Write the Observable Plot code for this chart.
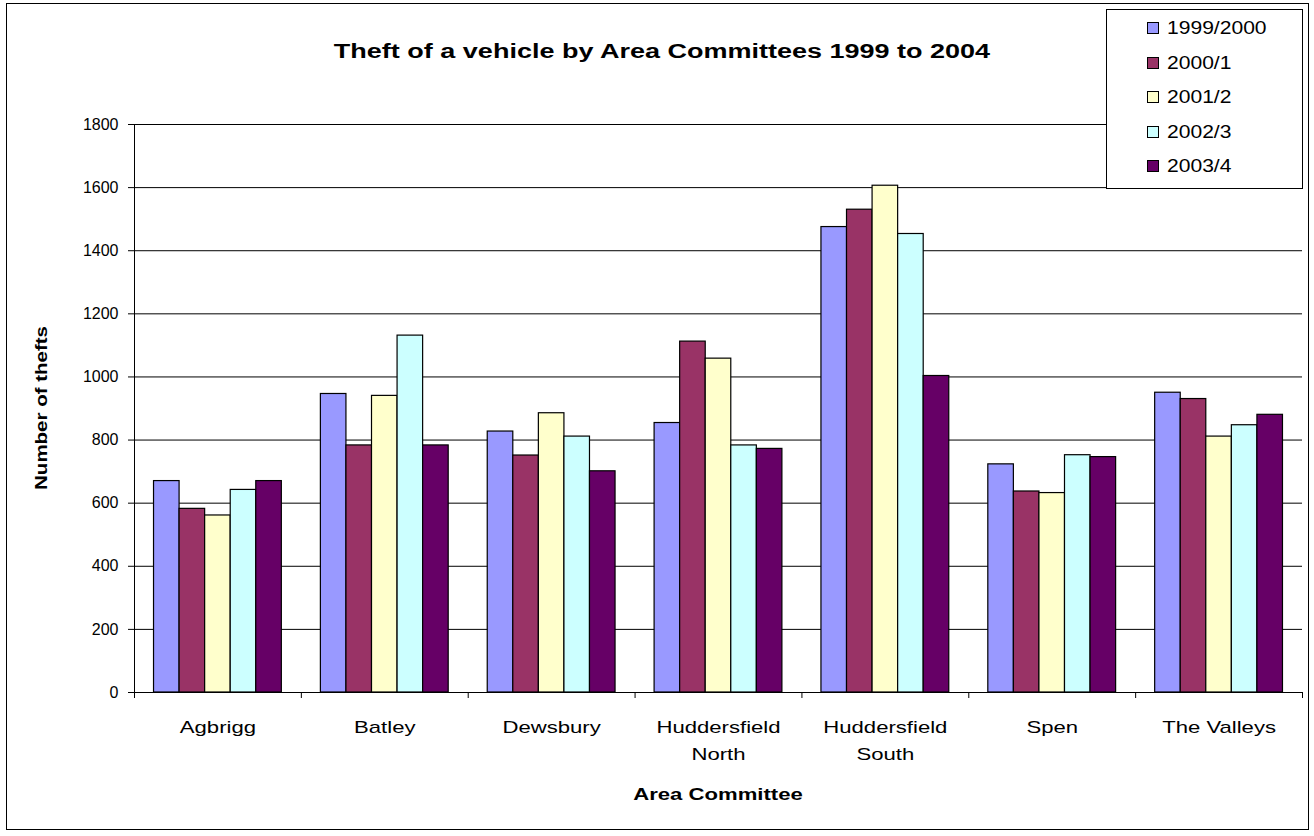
<!DOCTYPE html>
<html>
<head>
<meta charset="utf-8">
<script src="https://cdn.jsdelivr.net/npm/d3@7"></script>
<script src="https://cdn.jsdelivr.net/npm/@observablehq/plot@0.6"></script>
<style>
  html, body { margin: 0; padding: 0; background: white; }
  body { font-family: "Liberation Sans", Arial, sans-serif; }
  #wrap { position: relative; width: 1314px; height: 836px; overflow: hidden; background: white; }
  #wrap svg { position: absolute; left: 0; top: 0; }
  #frame { position: absolute; left: 6px; top: 3px; width: 1303px; height: 827px; box-sizing: border-box; border: 1px solid #000; pointer-events: none; }
  #title { position: absolute; left: 662px; top: 51px; transform: translate(-50%, -50%) scaleX(1.35); font-weight: bold; font-size: 20px; white-space: nowrap; }
  #ylabel { position: absolute; left: 42px; top: 408px; transform: translate(-50%, -50%) rotate(-90deg) scaleX(1.28); font-weight: bold; font-size: 16px; white-space: nowrap; }
  #xlabel { position: absolute; left: 718px; top: 795px; transform: translate(-50%, -50%) scaleX(1.3); font-weight: bold; font-size: 17px; white-space: nowrap; }
  #legend { position: absolute; left: 1106px; top: 9px; width: 197px; height: 180px; box-sizing: border-box; border: 1px solid #000; background: white; padding-top: 1px; }
  .item { position: relative; height: 34.5px; font-size: 18px; }
  .sw { position: absolute; left: 40px; width: 10px; height: 10px; border: 1px solid #000; top: 50%; transform: translateY(-50%); }
  .lt { position: absolute; left: 60px; top: 50%; transform: translateY(-50%) scaleX(1.17); transform-origin: left center; white-space: nowrap; }
</style>
</head>
<body>
<div id="wrap">
  <div id="frame"></div>
  <div id="title">Theft of a vehicle by Area Committees 1999 to 2004</div>
  <div id="ylabel">Number of thefts</div>
  <div id="xlabel">Area Committee</div>
  <div id="legend"></div>
</div>
<script>
// ---- data ----
const areas = ["Agbrigg", "Batley", "Dewsbury", "Huddersfield North", "Huddersfield South", "Spen", "The Valleys"];
const areaLabels = ["Agbrigg", "Batley", "Dewsbury", "Huddersfield\nNorth", "Huddersfield\nSouth", "Spen", "The Valleys"];
const series = ["1999/2000", "2000/1", "2001/2", "2002/3", "2003/4"];
const v1999 = [670, 946, 827, 854, 1475, 723, 950];
const v2000 = [582, 783, 751, 1112, 1530, 637, 930];
const v2001 = [561, 940, 885, 1058, 1606, 632, 811];
const v2002 = [642, 1131, 811, 783, 1453, 752, 847];
const v2003 = [670, 783, 701, 772, 1003, 746, 880];
const yTicks = [0, 200, 400, 600, 800, 1000, 1200, 1400, 1600, 1800];
const colors = ["#9999FF", "#993366", "#FFFFCC", "#CCFFFF", "#660066"];

const values = [v1999, v2000, v2001, v2002, v2003];
const rows = [];
areas.forEach((a, i) => series.forEach((s, k) => rows.push({area: a, i, k, series: s, value: values[k][i]})));

const gap = 0.117;                 // group gap (fraction of category, each side)
const bw = (1 - 2 * gap) / series.length;

const chart = Plot.plot({
  width: 1314,
  height: 836,
  marginLeft: 134,
  marginRight: 12,
  marginTop: 124,
  marginBottom: 144,
  style: {fontFamily: '"Liberation Sans", Arial, sans-serif', fontSize: "16px", color: "black", background: "transparent", overflow: "visible"},
  x: {domain: [0, areas.length], axis: null},
  y: {domain: [0, 1800], axis: null},
  color: {domain: series, range: colors},
  marks: [
    Plot.gridY(yTicks, {stroke: "#000", strokeOpacity: 1, strokeWidth: 1}),
    Plot.rectY(rows, {
      x1: d => d.i + gap + d.k * bw,
      x2: d => d.i + gap + (d.k + 1) * bw,
      y: "value",
      fill: "series",
      stroke: "#000",
      strokeWidth: 1.2
    }),
    Plot.ruleY([0], {stroke: "#000"}),
    Plot.ruleX([0], {stroke: "#000"}),
    Plot.axisY({ticks: yTicks, tickSize: 6, tickPadding: 10, fontSize: 16, tickFormat: d => String(d), label: null, anchor: "left"}),
    Plot.axisX({ticks: d3.range(areas.length + 1), tickSize: 6, tickFormat: () => "", label: null, anchor: "bottom"}),
    Plot.text(areaLabels.map((t, i) => ({x: i + 0.5, t})), {
      x: "x", text: "t", frameAnchor: "bottom", lineAnchor: "top", dy: 21, fontSize: 17, lineHeight: 1.6,
      className: "catlabels"
    })
  ]
});
document.getElementById("wrap").prepend(chart);

// widen category labels horizontally (glyph stretch) to match the reference's wide rendering
d3.select(chart).selectAll(".catlabels text").each(function() {
  const spans = this.querySelectorAll("tspan");
  const targets = spans.length ? Array.from(spans) : [this];
  targets.forEach(t => {
    const len = t.getComputedTextLength();
    if (len > 0) {
      t.setAttribute("textLength", (len * 1.3).toFixed(1));
      t.setAttribute("lengthAdjust", "spacingAndGlyphs");
    }
  });
});

const legend = document.getElementById("legend");
series.forEach((s, k) => {
  const it = document.createElement("div");
  it.className = "item";
  it.innerHTML = `<span class="sw" style="background:${colors[k]}"></span><span class="lt">${s}</span>`;
  legend.appendChild(it);
});
</script>
</body>
</html>
